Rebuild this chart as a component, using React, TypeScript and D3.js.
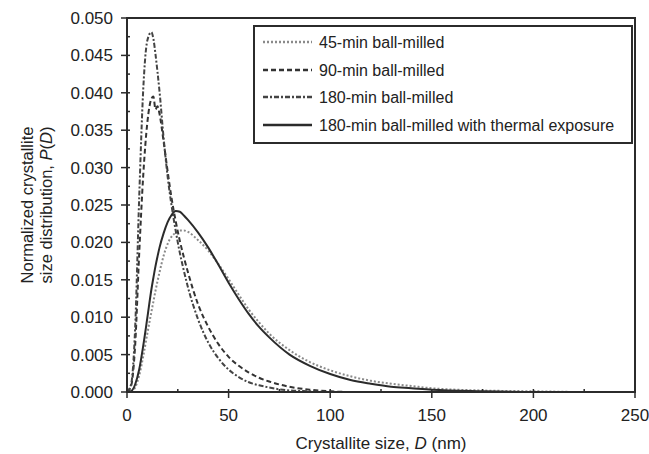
import React from "react";
import * as d3 from "d3";

// Crystallite size grid (nm) shared by every series
const sizes = [0, 2, 4, 6, 8, 10, 12, 13, 14, 15, 16, 18, 20, 22, 24, 26, 28, 30, 35, 40, 45, 50, 55, 60, 65, 70, 80, 90, 100, 110, 120, 130, 140, 150, 175, 200, 225, 250];

// Normalized size distribution P(D) for each sample
const milled45 = [0, 0.0001, 0.0006, 0.0022, 0.0048, 0.0078, 0.0107, 0.0121, 0.0135, 0.0148, 0.016, 0.0182, 0.0198, 0.0208, 0.0213, 0.0216, 0.0216, 0.0214, 0.0203, 0.0189, 0.0171, 0.0151, 0.013, 0.011, 0.0093, 0.0078, 0.0056, 0.004, 0.0029, 0.0021, 0.0015, 0.0011, 0.0008, 0.0005, 0.0002, 0.0001, 0, 0];
const milled90 = [0, 0.0008, 0.0062, 0.0185, 0.029, 0.036, 0.0392, 0.0395, 0.0378, 0.0382, 0.0372, 0.0335, 0.0295, 0.0258, 0.0228, 0.0202, 0.018, 0.016, 0.0117, 0.0087, 0.0064, 0.0047, 0.0035, 0.0026, 0.0019, 0.0014, 0.0007, 0.0003, 0.0001, 0, 0, 0, 0, 0, 0, 0, 0, 0];
const milled180 = [0, 0.001, 0.0085, 0.026, 0.0405, 0.047, 0.0481, 0.0472, 0.0452, 0.0428, 0.0402, 0.034, 0.0288, 0.0248, 0.0215, 0.0186, 0.0162, 0.014, 0.0097, 0.0066, 0.0045, 0.003, 0.002, 0.0013, 0.0009, 0.0006, 0.0002, 0.0001, 0, 0, 0, 0, 0, 0, 0, 0, 0, 0];
const thermal180 = [0, 0.0001, 0.001, 0.003, 0.0062, 0.0099, 0.0137, 0.0153, 0.0168, 0.0181, 0.0193, 0.0212, 0.0227, 0.0237, 0.0242, 0.0241, 0.0236, 0.023, 0.0213, 0.0193, 0.017, 0.0146, 0.0124, 0.0104, 0.0087, 0.0073, 0.005, 0.0035, 0.0024, 0.0016, 0.0011, 0.0007, 0.0005, 0.0003, 0.0001, 0, 0, 0];

const seriesNames = [
  "45-min ball-milled",
  "90-min ball-milled",
  "180-min ball-milled",
  "180-min ball-milled with thermal exposure",
];

const xTicks = [0, 50, 100, 150, 200, 250];
const yTicks = [0, 0.005, 0.01, 0.015, 0.02, 0.025, 0.03, 0.035, 0.04, 0.045, 0.05];

const W = 649;
const H = 454;
const plot = { left: 127, right: 635, top: 18, bottom: 392 };
const ink = "#2b2b2b";
const font = "'Liberation Sans', Arial, Helvetica, sans-serif";

const styles = [
  { stroke: "#8a8a8a", dash: "2,2", width: 2 },
  { stroke: "#333", dash: "5,3", width: 2 },
  { stroke: "#444", dash: "5,2,2,2", width: 2 },
  { stroke: "#2b2b2b", dash: "", width: 2 },
];

export default function App() {
  const x = d3.scaleLinear().domain([0, 250]).range([plot.left, plot.right]);
  const y = d3.scaleLinear().domain([0, 0.05]).range([plot.bottom, plot.top]);

  const allSeries = [milled45, milled90, milled180, thermal180];
  const line = d3
    .line<[number, number]>()
    .x((d) => x(d[0]))
    .y((d) => y(d[1]))
    .curve(d3.curveMonotoneX);

  const xMinor = d3.range(25, 250, 50);
  const yMinor = d3.range(0.0025, 0.05, 0.005);

  const legend = { x0: 254, x1: 632, y0: 26, y1: 143 };
  const legendRows = [42, 70, 97, 125];

  return (
    <svg
      width={W}
      height={H}
      style={{ position: "absolute", left: 0, top: 0, background: "#fff" }}
      fontFamily={font}
    >
      <rect x={0} y={0} width={W} height={H} fill="#fff" />
      <defs>
        <clipPath id="plotClip">
          <rect x={plot.left} y={plot.top - 2} width={plot.right - plot.left} height={plot.bottom - plot.top + 2} />
        </clipPath>
      </defs>

      {/* curves */}
      <g clipPath="url(#plotClip)">
        {allSeries.map((vals, i) => (
          <path
            key={i}
            d={line(sizes.map((s, k) => [s, vals[k]] as [number, number])) || ""}
            fill="none"
            stroke={styles[i].stroke}
            strokeWidth={styles[i].width}
            strokeDasharray={styles[i].dash}
            strokeLinejoin="round"
          />
        ))}
      </g>

      {/* frame */}
      <rect
        x={plot.left}
        y={plot.top}
        width={plot.right - plot.left}
        height={plot.bottom - plot.top}
        fill="none"
        stroke={ink}
        strokeWidth={2}
      />

      {/* y ticks */}
      {yTicks.map((t) => (
        <g key={"y" + t}>
          <line x1={plot.left - 6} x2={plot.left + 3} y1={y(t)} y2={y(t)} stroke={ink} strokeWidth={1.5} />
          <text x={plot.left - 14} y={y(t)} dy="0.35em" textAnchor="end" fontSize={17} fill="#222">
            {d3.format(".3f")(t)}
          </text>
        </g>
      ))}
      {yMinor.map((t) => (
        <line key={"ym" + t} x1={plot.left} x2={plot.left + 3} y1={y(t)} y2={y(t)} stroke={ink} strokeWidth={1.5} />
      ))}

      {/* x ticks */}
      {xTicks.map((t) => (
        <g key={"x" + t}>
          <line x1={x(t)} x2={x(t)} y1={plot.bottom - 3} y2={plot.bottom + 6} stroke={ink} strokeWidth={1.5} />
          <text x={x(t)} y={421} textAnchor="middle" fontSize={17} fill="#222">
            {t}
          </text>
        </g>
      ))}
      {xMinor.map((t) => (
        <line key={"xm" + t} x1={x(t)} x2={x(t)} y1={plot.bottom - 3} y2={plot.bottom} stroke={ink} strokeWidth={1.5} />
      ))}

      {/* axis titles */}
      <text x={(plot.left + plot.right) / 2} y={449} textAnchor="middle" fontSize={17} fill="#222">
        Crystallite size, <tspan fontStyle="italic">D</tspan> (nm)
      </text>
      <g transform={`translate(0, ${(plot.top + plot.bottom) / 2}) rotate(-90)`}>
        <text x={0} y={33} textAnchor="middle" fontSize={16.5} fill="#222">
          Normalized crystallite
        </text>
        <text x={0} y={52} textAnchor="middle" fontSize={16.5} fill="#222">
          size distribution, <tspan fontStyle="italic">P</tspan>(<tspan fontStyle="italic">D</tspan>)
        </text>
      </g>

      {/* legend */}
      <rect
        x={legend.x0}
        y={legend.y0}
        width={legend.x1 - legend.x0}
        height={legend.y1 - legend.y0}
        fill="#fff"
        stroke={ink}
        strokeWidth={2}
      />
      {seriesNames.map((name, i) => (
        <g key={name}>
          <line
            x1={263}
            x2={312}
            y1={legendRows[i]}
            y2={legendRows[i]}
            stroke={styles[i].stroke}
            strokeWidth={styles[i].width + 0.5}
            strokeDasharray={styles[i].dash}
          />
          <text x={319} y={legendRows[i]} dy="0.35em" fontSize={16} fill="#222">
            {name}
          </text>
        </g>
      ))}
    </svg>
  );
}
